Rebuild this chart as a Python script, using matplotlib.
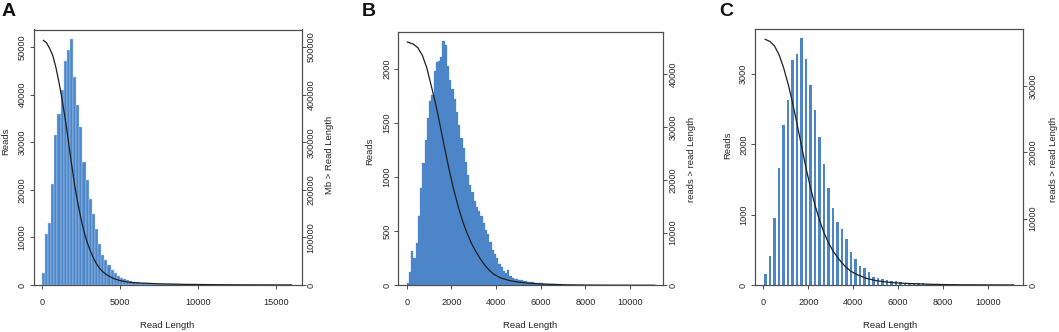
import matplotlib
matplotlib.use("Agg")
import matplotlib.pyplot as plt

plt.rcParams['font.family'] = ['Liberation Sans', 'DejaVu Sans']

W, H = 1059, 332

# ---- panel A: 200 bp bins from 0 ----
a_bin = 200
a_counts = [2450, 10800, 13100, 21300, 31500, 36000, 41000, 47000, 49300, 51600,
            43700, 37800, 33200, 25900, 22000, 18000, 14900, 11700, 8700, 6300,
            5200, 4200, 3150, 2450, 1950, 1500, 1250, 1000, 850, 700,
            600, 500, 430, 370, 320, 280, 240, 210, 180, 160,
            140, 130, 120, 110, 100, 95, 90, 85, 80, 75,
            70, 68, 65, 62, 60, 58, 55, 52, 50, 48,
            46, 44, 42, 40, 38, 36, 35, 34, 33, 32,
            31, 30, 29, 28, 27, 26, 25, 24, 0, 40]
a_curve_x = [100, 300, 500, 700, 900, 1100, 1300, 1500, 1700, 1900, 2100, 2300,
             2500, 2700, 2900, 3100, 3300, 3500, 3700, 3900, 4200, 4600, 5000,
             5400, 5800, 6500, 7500, 9000, 11000, 13000, 15000, 16000]
a_curve_y = [514000, 509000, 497000, 482000, 457000, 425000, 389000, 348000,
             302000, 255000, 210000, 173000, 140000, 112000, 90000, 72000,
             57000, 44500, 35000, 28000, 20500, 13500, 9400, 6800, 5100,
             3800, 2500, 1400, 700, 300, 100, 0]

# ---- panel B: 100 bp bins from 0 ----
b_bin = 100
b_counts = [20, 120, 320, 250, 390, 640, 900, 1130, 1340, 1550,
            1700, 1760, 1980, 2060, 2070, 2110, 2260, 2220, 2030, 1900,
            1810, 1720, 1600, 1480, 1360, 1270, 1140, 1020, 930, 860,
            780, 720, 690, 640, 580, 510, 470, 400, 330, 290,
            250, 200, 165, 130, 115, 140, 85, 70, 62, 55,
            48, 45, 40, 36, 33, 30, 27, 25, 22, 20,
            18, 16, 15, 13, 12, 10, 9, 8, 8, 7,
            6, 5, 6, 4, 5, 4, 3, 4, 3, 2,
            3, 2, 2, 1, 2, 0, 1, 0, 0, 0,
            0, 0, 0, 2, 0, 0, 0, 2, 0, 0,
            0, 0, 0, 0, 0, 0, 0, 0, 0, 0,
            0, 2]
b_curve_x = [30, 300, 500, 700, 900, 1100, 1300, 1500, 1700, 1900, 2100, 2300,
             2500, 2700, 2900, 3100, 3300, 3500, 3700, 3900, 4200, 4600, 5000,
             5500, 6000, 7000, 8000, 9500, 11100]
b_curve_y = [46100, 45700, 45000, 43600, 41200, 37800, 34300, 30200, 26000,
             21900, 18200, 15000, 12200, 9900, 7950, 6350, 4980, 3790, 2830,
             2100, 1400, 900, 600, 400, 250, 100, 40, 10, 0]

# ---- panel C: 200 bp bins from 0 ----
c_bin = 200
c_counts = [156, 417, 948, 1660, 2276, 2630, 3200, 3286, 3509, 3215,
            2845, 2490, 2110, 1716, 1375, 1100, 891, 792, 650, 474,
            370, 275, 247, 180, 120, 100, 90, 78, 62, 50,
            42, 35, 30, 27, 24, 22, 20, 18, 16, 14,
            12, 10, 10, 0, 0, 0, 0, 0, 0, 0,
            0, 0, 0, 0, 0, 15]
c_curve_x = [80, 300, 500, 700, 900, 1100, 1300, 1500, 1700, 1900, 2100, 2300,
             2500, 2700, 2900, 3100, 3300, 3500, 3700, 3900, 4200, 4600, 5000,
             5400, 5800, 6500, 7500, 8500, 11100]
c_curve_y = [37000, 36650, 35980, 34690, 32750, 30340, 27480, 24280, 20940,
             17630, 14650, 12030, 9760, 7880, 6360, 5140, 4160, 3330, 2620,
             2070, 1520, 990, 670, 480, 345, 220, 100, 40, 0]

fig = plt.figure(figsize=(W / 100, H / 100), dpi=100)
fig.patch.set_facecolor('white')

spine_col = '#4d4d4d'
text_col = '#262626'
bar_col = '#4d86c8'


def px(x, y):
    return x / W, 1 - y / H


def rect(l, t, r, b):
    return [l / W, 1 - b / H, (r - l) / W, (b - t) / H]


def panel(box, counts, binw, barw, edge, cx, cy, xlim, ylim, ylim2,
          xticks, yticks, yticks2):
    ax = fig.add_axes(box)
    edges = [i * binw for i in range(len(counts))]
    if barw < binw:
        ax.bar([e + binw / 2 for e in edges], counts, width=barw,
               align='center', color=bar_col, linewidth=0)
    else:
        ax.bar(edges, counts, width=binw, align='edge', color=bar_col,
               edgecolor=edge, linewidth=0.35 if edge != bar_col else 0.2)
    ax.set_xlim(*xlim)
    ax.set_ylim(*ylim)
    ax.set_xticks(xticks)
    ax.set_yticks(yticks)
    ax.set_xticklabels([str(v) for v in xticks])
    ax.set_yticklabels([str(v) for v in yticks], rotation=90, va='center')
    ax2 = ax.twinx()
    ax2.plot(cx, cy, color='#1f1f1f', linewidth=0.9)
    ax2.set_ylim(*ylim2)
    ax2.set_yticks(yticks2)
    ax2.set_yticklabels([str(v) for v in yticks2], rotation=90, va='center')
    for a in (ax, ax2):
        for s in a.spines.values():
            s.set_color(spine_col)
            s.set_linewidth(0.8)
        a.tick_params(length=3, width=0.7, color=spine_col,
                      labelcolor=text_col, labelsize=6.6)
    ax.tick_params(axis='x', pad=6.5)
    ax.tick_params(axis='y', pad=2.0)
    ax2.tick_params(axis='y', pad=0.8)
    return ax


panel(rect(33.5, 29.5, 301.5, 285), a_counts, a_bin, a_bin, '#b3cfee',
      a_curve_x, a_curve_y, (-536, 16636), (0, 53680), (0, 536800),
      [0, 5000, 10000, 15000], [0, 10000, 20000, 30000, 40000, 50000],
      [0, 100000, 200000, 300000, 400000, 500000])

panel(rect(398.3, 32, 663.3, 285.3), b_counts, b_bin, b_bin, bar_col,
      b_curve_x, b_curve_y, (-376, 11486), (0, 2340), (0, 48000),
      [0, 2000, 4000, 6000, 8000, 10000], [0, 500, 1000, 1500, 2000],
      [0, 10000, 20000, 30000, 40000])

panel(rect(755, 29.3, 1023.3, 285), c_counts, c_bin, 110, None,
      c_curve_x, c_curve_y, (-369, 11570), (0, 3637), (0, 38500),
      [0, 2000, 4000, 6000, 8000, 10000], [0, 1000, 2000, 3000],
      [0, 10000, 20000, 30000])

lab = dict(fontsize=6.8, color=text_col, ha='center', va='center')
for x, t in ((167.5, 'Read Length'), (530.5, 'Read Length'), (890, 'Read Length')):
    fig.text(*px(x, 325), t, **lab)
for x, y in ((5.5, 141), (370, 151), (728, 145)):
    fig.text(*px(x, y), 'Reads', rotation=90, **lab)
fig.text(*px(330, 155), 'Mb > Read Length', rotation=90, **lab)
fig.text(*px(692, 159), 'reads > read Length', rotation=90, **lab)
fig.text(*px(1053, 159), 'reads > read Length', rotation=90, **lab)

for x, t in ((1.5, 'A'), (362, 'B'), (719, 'C')):
    fig.text(*px(x, 3), t, fontsize=14, fontweight='bold', color='#111111',
             ha='left', va='top')

fig.savefig('out.png', dpi=100, facecolor='white')
